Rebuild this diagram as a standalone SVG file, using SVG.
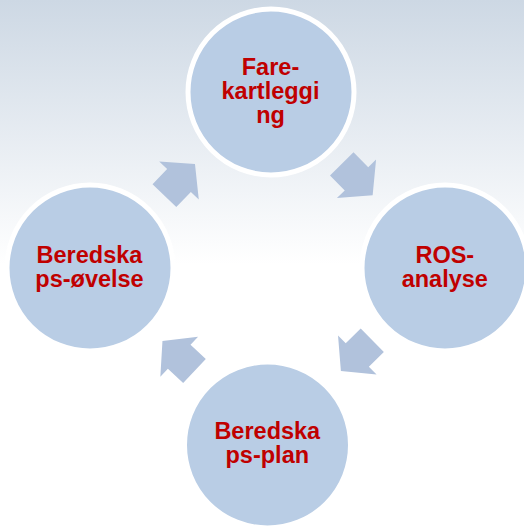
<svg xmlns="http://www.w3.org/2000/svg" width="524" height="529" viewBox="0 0 524 529">
  <defs>
    <linearGradient id="bg" x1="0" y1="0" x2="0" y2="1">
      <stop offset="0" stop-color="#cdd8e4"/>
      <stop offset="0.5" stop-color="#ffffff"/>
      <stop offset="1" stop-color="#ffffff"/>
    </linearGradient>
    <polygon id="arr" points="-21,-16.5 0,-16.5 0,-27.5 23,0 0,27.5 0,16.5 -21,16.5"/>
  </defs>
  <style>
    .node circle { fill: #b9cde5; stroke: #ffffff; stroke-width: 5; }
    .node text { font-family: "Liberation Sans", Arial, sans-serif; font-weight: bold; font-size: 23.5px; fill: #c00000; text-anchor: middle; }
    .conn use { fill: #b1c2dc; }
  </style>
  <rect x="0" y="0" width="524" height="529" fill="url(#bg)"/>
  <g id="connectors" class="conn">
    <use href="#arr" transform="translate(179,180.5) rotate(-46)"/>
    <use href="#arr" transform="translate(356.5,178.8) rotate(45.4)"/>
    <use href="#arr" transform="translate(357.3,355) rotate(135.5)"/>
    <use href="#arr" transform="translate(179.2,356.7) rotate(-136.7)"/>
  </g>
  <g id="node-farekartlegging" class="node">
    <circle cx="271" cy="92" r="83"/>
    <text x="270.5" y="75">Fare-</text>
    <text x="270.5" y="99">kartleggi</text>
    <text x="270.5" y="123">ng</text>
  </g>
  <g id="node-ros-analyse" class="node">
    <circle cx="445" cy="268" r="83"/>
    <text x="444.8" y="263.3">ROS-</text>
    <text x="444.8" y="287">analyse</text>
  </g>
  <g id="node-beredskapsplan" class="node">
    <circle cx="267.5" cy="445" r="83"/>
    <text x="267.3" y="439.3">Beredska</text>
    <text x="267.3" y="463">ps-plan</text>
  </g>
  <g id="node-beredskapsovelse" class="node">
    <circle cx="90" cy="268" r="83"/>
    <text x="89.5" y="263.3">Beredska</text>
    <text x="89.5" y="287">ps-øvelse</text>
  </g>
</svg>
